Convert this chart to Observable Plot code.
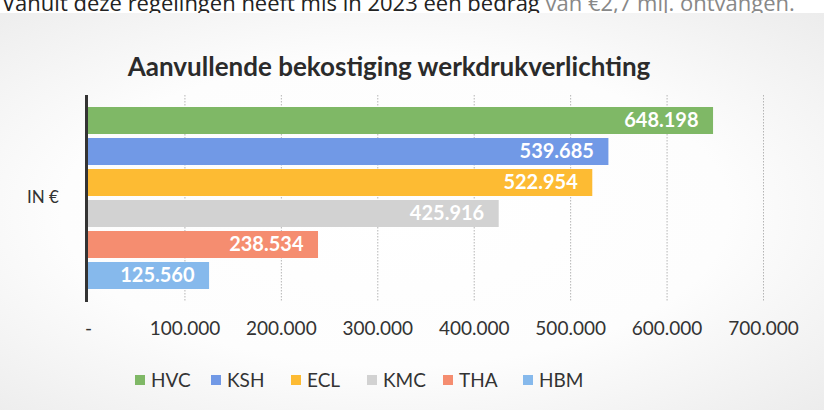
<!DOCTYPE html>
<html>
<head>
<meta charset="utf-8">
<script src="https://cdn.jsdelivr.net/npm/d3@7"></script>
<script src="https://cdn.jsdelivr.net/npm/@observablehq/plot@0.6"></script>
<style>
  html, body { margin: 0; padding: 0; background: #fff; }
  #wrap { position: relative; width: 824px; height: 410px; overflow: hidden; font-family: Lato, "Open Sans", sans-serif; }
  #toptext { position: absolute; left: 2px; top: -13px; font-size: 22px; color: #222; white-space: nowrap; font-family: "Open Sans", sans-serif; }
  #toptext span { color: #888; }
  #panel { position: absolute; left: 0; top: 13px; width: 824px; height: 397px;
    background: radial-gradient(ellipse at 48% 50%, #ffffff 0%, #fdfdfd 55%, #ececec 100%); }
  #title { position: absolute; left: 0; width: 778px; top: 50px; text-align: center; font-size: 26px; font-weight: bold; color: #2b2b2b; }
  #ylab { position: absolute; left: 27px; top: 186px; font-size: 17px; color: #333; }
  #chart { position: absolute; left: 0; top: 90px; }
  #legend { position: absolute; left: 0; top: 368px; width: 824px; height: 30px; font-size: 19px; color: #333; }
  #legend .it { position: absolute; top: 0; display: flex; align-items: center; }
  #legend .sw { width: 10px; height: 10px; margin-right: 6px; }
</style>
</head>
<body>
<div id="wrap">
  <div id="toptext">Vanuit deze regelingen heeft mis in 2023 een bedrag <span>van €2,7 mlj. ontvangen.</span></div>
  <div id="panel"></div>
  <div id="title">Aanvullende bekostiging werkdrukverlichting</div>
  <div id="ylab">IN €</div>
  <div id="chart"></div>
  <div id="legend"></div>
</div>
<script>
const categories = ["HVC", "KSH", "ECL", "KMC", "THA", "HBM"];
const values = [648198, 539685, 522954, 425916, 238534, 125560];
const colors = ["#7fb866", "#7199e6", "#fdbb33", "#d2d2d2", "#f58d70", "#86b9ec"];
const xTicks = [0, 100000, 200000, 300000, 400000, 500000, 600000, 700000];

const data = categories.map((c, i) => ({name: c, value: values[i], color: colors[i]}));
const fmt = d => d === 0 ? "-" : d3.format(",")(d).replace(/,/g, ".");

const chart = Plot.plot({
  width: 824,
  height: 250,
  marginLeft: 88,
  marginRight: 61,
  marginTop: 5,
  marginBottom: 38,
  style: {background: "transparent", fontFamily: "Lato, 'Open Sans', sans-serif"},
  x: {domain: [0, 700000]},
  y: {domain: categories, range: [14, 202], paddingInner: 0.12, paddingOuter: 0},
  marks: [
    Plot.ruleX(xTicks.slice(1), {stroke: "#b5b5b5", strokeDasharray: "1.5,1.5"}),
    Plot.barX(data, {x: "value", y: "name", fill: "color"}),
    Plot.text(data, {x: "value", y: "name", text: d => fmt(d.value), textAnchor: "end", dx: -15, fill: "white", fontWeight: "bold", fontSize: 20}),
    Plot.axisX({ticks: xTicks, tickFormat: fmt, tickSize: 0, tickPadding: 19, fontSize: 19, fill: "#333", anchor: "bottom", label: null}),
    Plot.axisY({ticks: [], label: null, tickSize: 0}),
    Plot.ruleX([0], {stroke: "#333", strokeWidth: 3, dx: -2})
  ]
});
document.getElementById("chart").appendChild(chart);

const legendX = [135, 211, 291, 367, 443, 523];
const lg = document.getElementById("legend");
categories.forEach((c, i) => {
  const it = document.createElement("div");
  it.className = "it";
  it.style.left = legendX[i] + "px";
  it.innerHTML = `<div class="sw" style="background:${colors[i]}"></div><span>${c}</span>`;
  lg.appendChild(it);
});
</script>
</body>
</html>
